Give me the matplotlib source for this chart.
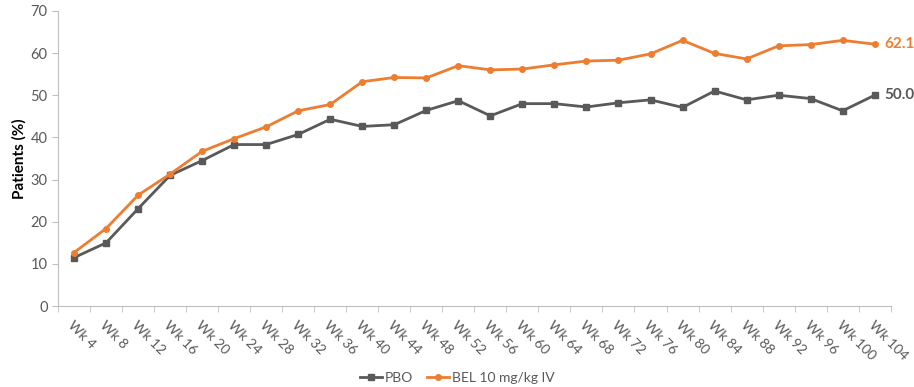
import numpy as np
import matplotlib
matplotlib.use("Agg")
from matplotlib import pyplot as plt

weeks = [4, 8, 12, 16, 20, 24, 28, 32, 36, 40, 44, 48, 52,
         56, 60, 64, 68, 72, 76, 80, 84, 88, 92, 96, 100, 104]
week_labels = ["Wk %d" % w for w in weeks]

pbo = [11.5, 15.0, 23.1, 31.0, 34.5, 38.3, 38.3, 40.7, 44.3, 42.6, 43.0, 46.4, 48.7,
       45.1, 48.0, 48.0, 47.2, 48.2, 48.9, 47.1, 51.0, 48.9, 50.0, 49.2, 46.3, 50.0]
bel = [12.7, 18.4, 26.3, 31.3, 36.7, 39.7, 42.5, 46.3, 47.8, 53.2, 54.2, 54.1, 57.0,
       56.0, 56.2, 57.2, 58.1, 58.3, 59.8, 63.0, 59.9, 58.6, 61.7, 62.0, 63.0, 62.1]

gray = "#595959"
orange = "#ED7D31"
axis_col = "#BFBFBF"

plt.rcParams["font.family"] = ["Lato", "DejaVu Sans"]

fig = plt.figure(figsize=(9.14, 3.87), dpi=100)
ax = fig.add_axes([0.0635, 0.209, 0.911, 0.763])

x = np.arange(len(weeks))
ax.plot(x, pbo, color=gray, lw=2.0, marker="s", ms=4, label="PBO")
ax.plot(x, bel, color=orange, lw=2.0, marker="o", ms=4, label="BEL 10 mg/kg IV")

# end-of-series values
ax.text(x[-1] + 0.3, pbo[-1], "%.1f" % pbo[-1], color=gray, fontsize=11,
        fontweight="bold", va="center", ha="left")
ax.text(x[-1] + 0.3, bel[-1], "%.1f" % bel[-1], color=orange, fontsize=11,
        fontweight="bold", va="center", ha="left")

ax.set_xlim(-0.5, len(weeks) - 0.5)
ax.set_ylim(0, 70)
ax.set_yticks(range(0, 71, 10))
ax.tick_params(axis="y", colors=gray, labelsize=10.5, length=4, color=axis_col)

ax.set_xticks(x)
ax.set_xticklabels(week_labels, rotation=-45, ha="left", va="top",
                   rotation_mode="anchor", color=gray, fontsize=10)
ax.tick_params(axis="x", length=0, pad=9)
ax.set_xticks(np.arange(-0.5, len(weeks)), minor=True)
ax.tick_params(axis="x", which="minor", length=4, color=axis_col)

for s in ["top", "right"]:
    ax.spines[s].set_visible(False)
for s in ["left", "bottom"]:
    ax.spines[s].set_color(axis_col)

ax.set_ylabel("Patients (%)", fontsize=11, fontweight="bold", color="black", labelpad=3)

fig.legend(loc="lower center", bbox_to_anchor=(0.5, -0.025), ncol=2, frameon=False,
           fontsize=10, handlelength=1.6, columnspacing=1.0, handletextpad=0.2,
           labelcolor=gray)

fig.savefig("out.png", dpi=100)
